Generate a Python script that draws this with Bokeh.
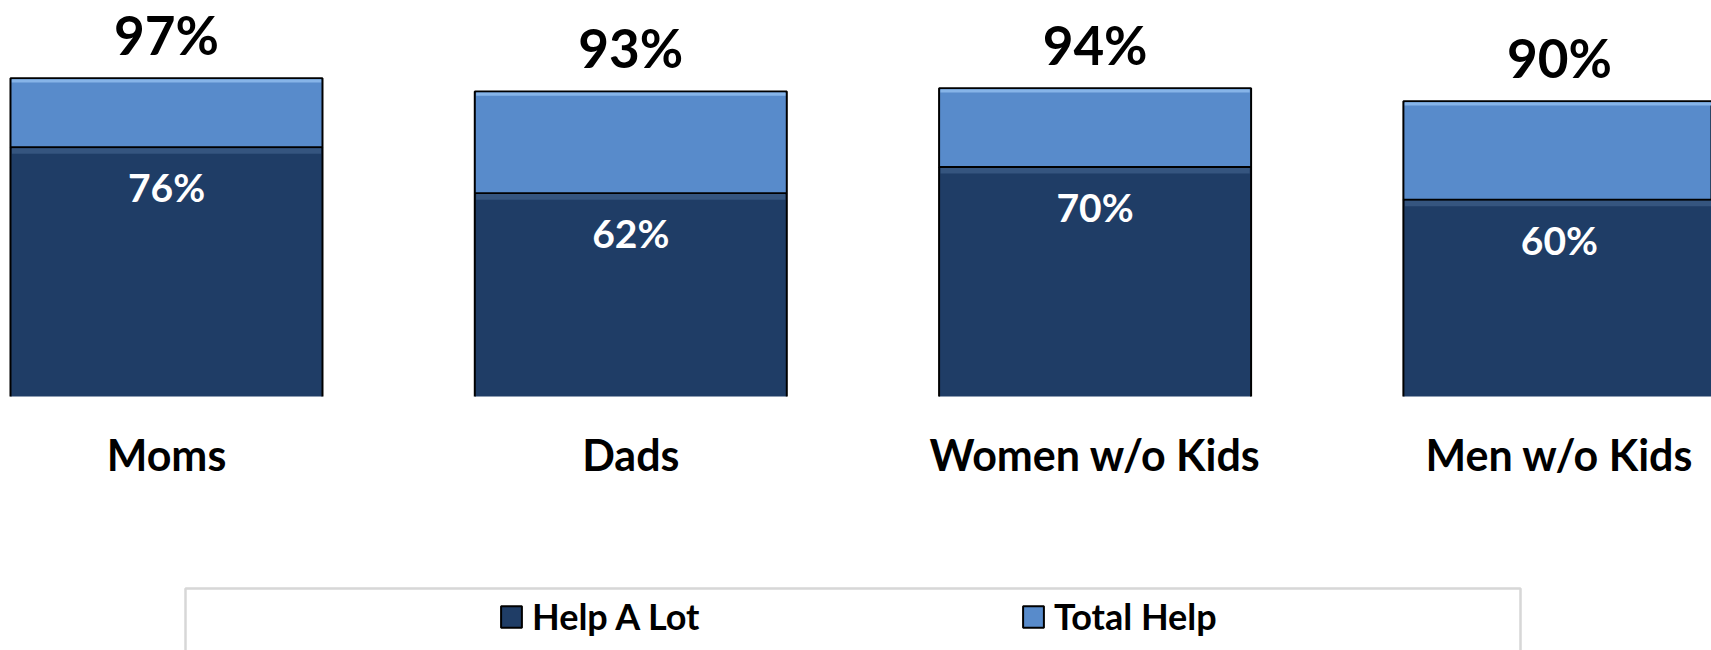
from bokeh.plotting import figure
from bokeh.models import (Range1d, Legend, LegendItem, BoxAnnotation, ColumnDataSource)
from bokeh.core.properties import value
from bokeh.embed import file_html
from bokeh.resources import INLINE

# ---- data ----
categories = ["Moms", "Dads", "Women w/o Kids", "Men w/o Kids"]
help_a_lot = [76, 62, 70, 60]
total_help = [97, 93, 94, 90]
series_names = ["Help A Lot", "Total Help"]

# ---- styles ----
DARK = "#1F3D66"
LIGHT = "#588BCB"
LIGHT_HI = "#86B4E8"
DARK_HI = "#35557F"
FONT = "Lato"
BAR_W = 0.672
INNER_W = BAR_W - 0.006

xs = list(range(len(categories)))
src = ColumnDataSource(dict(
    x=xs,
    left=[x - BAR_W / 2 for x in xs],
    right=[x + BAR_W / 2 for x in xs],
    zero=[0] * len(xs),
    help=help_a_lot,
    total=total_help,
    cat=categories,
    help_lbl=[f"{v}%" for v in help_a_lot],
    total_lbl=[f"{v}%" for v in total_help],
    light_hi_top=[t - 0.3 for t in total_help],
    light_hi_bot=[t - 1.3 for t in total_help],
    dark_hi_top=[h - 0.3 for h in help_a_lot],
    dark_hi_bot=[h - 2.0 for h in help_a_lot],
))

p = figure(width=1711, height=650,
           x_range=Range1d(-0.3575, 3.3276), y_range=Range1d(-77.44, 120.73),
           output_backend="svg", toolbar_location=None,
           x_axis_location=None, y_axis_location=None,
           min_border_left=0, min_border_right=0, min_border_top=0,
           min_border_bottom=0)
p.outline_line_color = None
p.xgrid.visible = False
p.ygrid.visible = False
p.background_fill_color = "white"
p.border_fill_color = "white"

# stacked bars: dark part (Help A Lot) and light part up to Total Help
r_dark = p.vbar(x="x", bottom=0, top="help", width=BAR_W, source=src,
                fill_color=DARK, line_color=None)
r_light = p.vbar(x="x", bottom="help", top="total", width=BAR_W, source=src,
                 fill_color=LIGHT, line_color="black", line_width=2)
# bevel highlights just under each segment's top edge
p.vbar(x="x", bottom="light_hi_bot", top="light_hi_top", width=INNER_W,
       source=src, fill_color=LIGHT_HI, line_color=None)
p.vbar(x="x", bottom="dark_hi_bot", top="dark_hi_top", width=INNER_W,
       source=src, fill_color=DARK_HI, line_color=None)
# outline of the dark part (left and right sides; its top is the light part's edge)
p.segment(x0="left", y0="zero", x1="left", y1="help", source=src,
          line_color="black", line_width=2)
p.segment(x0="right", y0="zero", x1="right", y1="help", source=src,
          line_color="black", line_width=2)
# legend key for the dark series (hidden in the plot)
r_dark_key = p.vbar(x="x", bottom=0, top="help", width=BAR_W, source=src,
                    fill_color=DARK, line_color="black", line_width=2,
                    visible=False)

p.text(x="x", y="total", text="total_lbl", source=src, text_align="center",
       text_baseline="alphabetic", y_offset=-44, text_font=value(FONT),
       text_font_style="bold", text_font_size="53px", text_color="black")
p.text(x="x", y="help", text="help_lbl", source=src, text_align="center",
       text_baseline="alphabetic", y_offset=40, text_font=value(FONT),
       text_font_style="bold", text_font_size="39px", text_color="white")
p.text(x="x", y="zero", text="cat", source=src, text_align="center",
       text_baseline="alphabetic", y_offset=58, text_font=value(FONT),
       text_font_style="bold", text_font_size="43px", text_color="black")

box = BoxAnnotation(left=185, right=1520, top=62, bottom=-30,
                    left_units="screen", right_units="screen",
                    top_units="screen", bottom_units="screen",
                    fill_color=None, line_color="#7a7a7a", line_width=2.5)
p.add_layout(box)

leg = Legend(items=[LegendItem(label=series_names[0], renderers=[r_dark_key]),
                    LegendItem(label=series_names[1], renderers=[r_light])],
             orientation="horizontal", location=(498, 12),
             border_line_color=None, background_fill_alpha=0,
             inactive_fill_alpha=0,
             glyph_width=26, glyph_height=27, label_standoff=8,
             label_width=488, label_height=27, spacing=0, padding=0, margin=0,
             label_text_font=FONT, label_text_font_style="bold",
             label_text_font_size="36px", label_text_color="black")
p.add_layout(leg)

open("out.html", "w").write(file_html(p, INLINE))
